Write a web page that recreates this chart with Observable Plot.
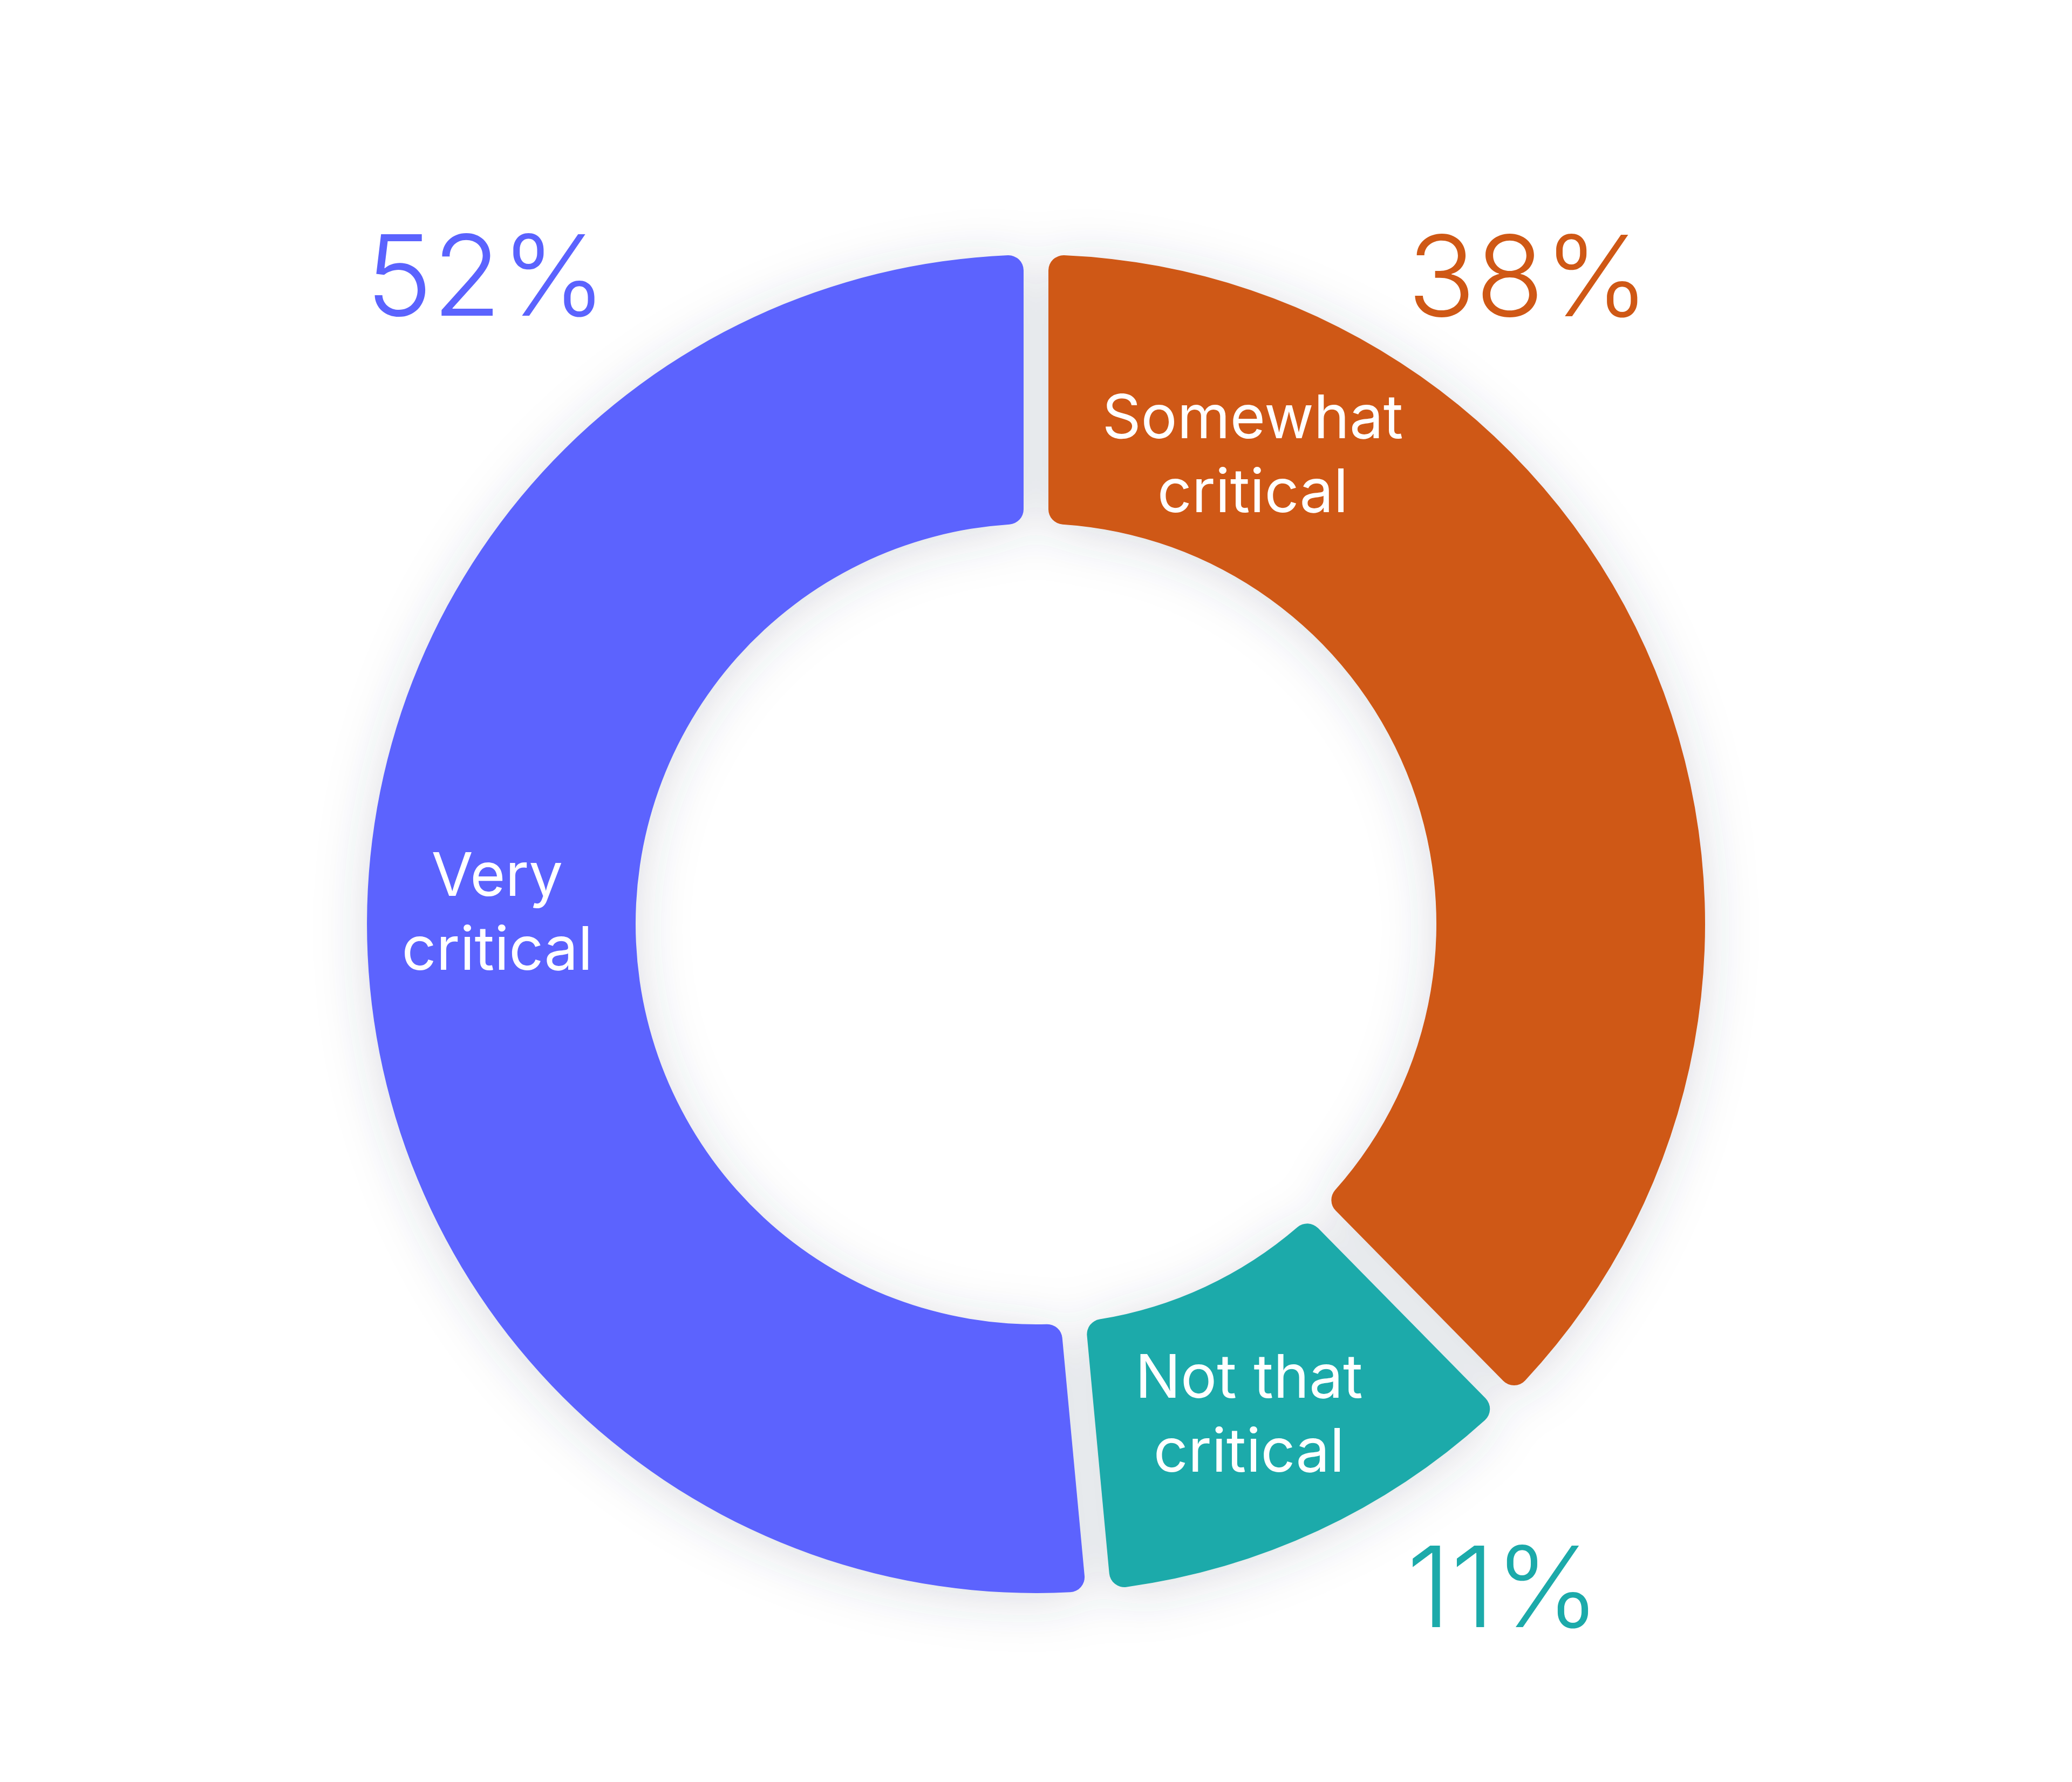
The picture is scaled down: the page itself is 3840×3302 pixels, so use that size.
<!DOCTYPE html>
<html>
<head>
<meta charset="utf-8">
<script src="https://cdn.jsdelivr.net/npm/d3@7"></script>
<script src="https://cdn.jsdelivr.net/npm/@observablehq/plot@0.6"></script>
<style>
  html, body { margin: 0; padding: 0; background: #ffffff; overflow: hidden; }
  #chart svg { display: block; }
</style>
</head>
<body>
<div id="chart"></div>
<script>
// ---- Data (clockwise from 12 o'clock) ----
const categories = ["Somewhat critical", "Not that critical", "Very critical"];
const values = [38, 11, 52];
const percentLabels = ["38%", "11%", "52%"];
const colors = ["#cf5815", "#1caaaa", "#5b63fe"];

// ---- Layout (positions/styles, not data) ----
const W = 3840, H = 3302;
const CX = 1920, CY = 1712, R_PX = 1240;      // ring centre and outer radius in pixels
const innerRatio = 742 / 1240;                 // inner radius / outer radius
const nameAngle = [24.6, 156.4, 271.6];        // degrees clockwise from top
const nameRadius = [0.777, 0.794, 0.806];      // in units of outer radius
const pctAngle = [37.4, 145.0, 319.5];
const pctRadius = [1.211, 1.217, 1.266];

const rows = categories.map((c, i) => ({
  category: c,
  value: values[i],
  pct: percentLabels[i],
  color: colors[i],
  na: nameAngle[i] * Math.PI / 180,
  nr: nameRadius[i],
  pa: pctAngle[i] * Math.PI / 180,
  pr: pctRadius[i]
}));

const arcs = d3.pie().sort(null).value(d => d.value)(rows);

function twoLines(s) {
  const k = s.lastIndexOf(" ");
  return s.slice(0, k) + "\n" + s.slice(k + 1);
}

function donut(index, scales) {
  const cx = scales.x(0), cy = scales.y(0);
  const ro = scales.x(1) - cx;
  const ri = scales.x(innerRatio) - cx;
  const g = d3.create("svg:g");
  const f = g.append("defs").append("filter")
    .attr("id", "ringShadow")
    .attr("x", "-30%").attr("y", "-30%")
    .attr("width", "160%").attr("height", "160%");
  f.append("feDropShadow")
    .attr("dx", 0).attr("dy", 10)
    .attr("stdDeviation", 48)
    .attr("flood-color", "#3a4660")
    .attr("flood-opacity", 0.19);
  const arc = d3.arc()
    .innerRadius(ri)
    .outerRadius(ro)
    .cornerRadius(28)
    .padAngle(46 / Math.hypot(ri, ro));
  g.append("g")
    .attr("filter", "url(#ringShadow)")
    .attr("transform", `translate(${cx},${cy})`)
    .selectAll("path")
    .data(arcs)
    .join("path")
    .attr("d", arc)
    .attr("fill", d => d.data.color);
  return g.node();
}

const chart = Plot.plot({
  width: W,
  height: H,
  marginTop: 0, marginRight: 0, marginBottom: 0, marginLeft: 0,
  style: { fontFamily: "Inter, Roboto, 'Noto Sans', sans-serif", background: "#ffffff" },
  x: { domain: [-CX / R_PX, (W - CX) / R_PX], range: [0, W], axis: null },
  y: { domain: [-(H - CY) / R_PX, CY / R_PX], range: [H, 0], axis: null },
  color: { type: "identity" },
  marks: [
    donut,
    Plot.text(rows, {
      x: d => d.nr * Math.sin(d.na),
      y: d => d.nr * Math.cos(d.na),
      text: d => twoLines(d.category),
      fill: "#ffffff",
      fontSize: 112,
      fontWeight: 400,
      lineHeight: 1.22,
      textAnchor: "middle"
    }),
    Plot.text(rows, {
      x: d => d.pr * Math.sin(d.pa),
      y: d => d.pr * Math.cos(d.pa),
      text: d => d.pct,
      fill: d => d.color,
      fontSize: 208,
      fontWeight: 300,
      letterSpacing: "-0.02em",
      textAnchor: "middle"
    })
  ]
});

document.getElementById("chart").appendChild(chart);
</script>
</body>
</html>
